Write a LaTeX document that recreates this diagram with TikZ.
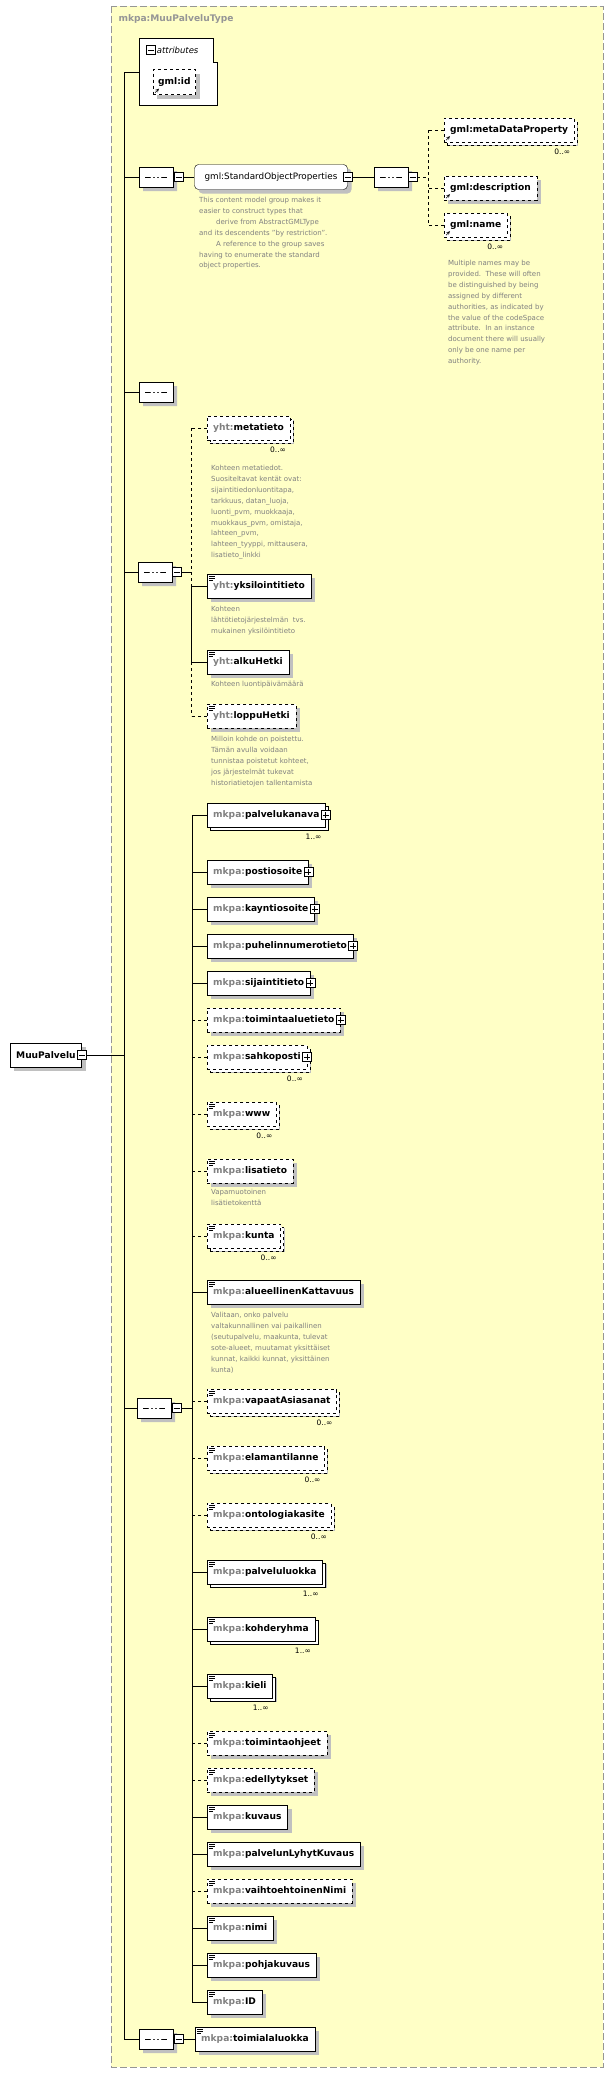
\documentclass[tikz,border=0pt]{standalone}
\usepackage{fontspec}
\setmainfont{DejaVu Sans}
\usetikzlibrary{shapes.misc,shadows,positioning}
\definecolor{typebg}{RGB}{255,255,198}
\definecolor{shade}{RGB}{192,192,192}
\definecolor{pfx}{RGB}{128,128,128}
\definecolor{frame}{RGB}{150,150,150}
\tikzset{
  shd/.style={drop shadow={shadow xshift=4pt,shadow yshift=-4pt,fill=shade,opacity=1}},
  elem/.style={draw,fill=white,anchor=west,minimum height=24,inner xsep=6,shd,
    font=\fontsize{9.1}{10}\selectfont\bfseries},
  req/.style={elem},
  reqmany/.style={elem,copy shadow={shadow xshift=3pt,shadow yshift=-3pt,fill=white,draw=black}},
  opt/.style={elem,dashed},
  optmany/.style={elem,dashed,copy shadow={shadow xshift=3pt,shadow yshift=-3pt,fill=white,draw=black,dashed}},
  xbox/.style={draw,solid,fill=white,minimum size=9,inner sep=0,
    path picture={\draw ([xshift=-3pt]path picture bounding box.center) -- ([xshift=3pt]path picture bounding box.center);}},
  pbox/.style={draw,solid,fill=white,minimum size=9,inner sep=0,
    path picture={\draw ([xshift=-3pt]path picture bounding box.center) -- ([xshift=3pt]path picture bounding box.center)
      ([yshift=-3pt]path picture bounding box.center) -- ([yshift=3pt]path picture bounding box.center);}},
  seq/.style={chamfered rectangle,chamfered rectangle xsep=5pt,chamfered rectangle ysep=5pt,
    draw,fill=white,minimum width=34,minimum height=20,inner sep=0,shd,
    path picture={\draw ([xshift=-11pt]path picture bounding box.center) -- ([xshift=11pt]path picture bounding box.center);
      \foreach \d in {-4,0,4} \fill ([xshift=\d pt]path picture bounding box.center) circle (1.6pt);}},
  mult/.style={anchor=north east,inner sep=0,font=\fontsize{7.5}{9}\selectfont},
  desc/.style={anchor=north west,inner sep=0,align=left,text=pfx,font=\fontsize{7}{10.9}\selectfont},
}
\newcommand\doclines[1]{\draw[solid,line width=.6pt] ([xshift=2pt,yshift=-2pt]#1.north west) -- ++(6,0)
  ([xshift=2pt,yshift=-4pt]#1.north west) -- ++(6,0) ([xshift=2pt,yshift=-6pt]#1.north west) -- ++(4,0);}
\newcommand\refmark[1]{\draw[solid,-stealth,line width=.6pt] ([xshift=2pt,yshift=2pt]#1.south west) -- ++(4,-4);}
\begin{document}
\begin{tikzpicture}[x=1pt,y=-1pt]
\useasboundingbox (0,0) rectangle (608,2073);
% complex type frame
\draw[frame,dashed,dash pattern=on 7pt off 3pt,fill=typebg] (111,6) rectangle (603,2067);
\node[anchor=west,text=frame,font=\fontsize{9.1}{10}\selectfont\bfseries] (title) at (115,19) {mkpa:MuuPalveluType};
\coordinate (trunktop) at (124,72);
\coordinate (trunkbot) at (124,2039);
\draw (trunktop) -- (trunkbot);

% root element
\node[req] (root) at (10,1055) {MuuPalvelu};
\node[xbox] (rootx) at (root.east) {};
\draw (rootx.east) -- (rootx.east -| trunktop);

% attributes
\draw[fill=white] (139,38) -- (213,38) -- (213,62) -- (217,62) -- (217,105) -- (139,105) -- cycle;
\node[xbox] (attrx) at (151,50) {};
\node[anchor=west,inner sep=1,font=\fontsize{8.5}{10}\selectfont\itshape] (attr) at (attrx.east) {attributes};
\draw (trunktop) -- (139,72);
\node[opt,minimum height=25,inner xsep=5] (gmlid) at (153,82) {gml:id};
\refmark{gmlid}

% sequence 1 and group
\node[seq] (s1) at (156,177) {};
\node[xbox] (s1x) at (178.5,177) {};
\draw (s1.west) -- (s1.west -| trunktop);
\node[draw,fill=white,rounded corners=4pt,minimum width=153,minimum height=25,shd,
  font=\fontsize{8.8}{10}\selectfont] (grp) at (271,177) {gml:StandardObjectProperties};
\node[xbox] (grpx) at (grp.east) {};
\draw (s1x.east) -- (grp.west);
\node[seq] (s1b) at (391,177) {};
\node[xbox] (s1bx) at (412.5,177) {};
\draw (grpx.east) -- (s1b.west);
\coordinate (b1) at (428,130);
\draw[dashed] (s1bx.east) -- (428,177) (b1) -- (428,225);
\node[optmany] (mdp) at (444,130) {gml:metaDataProperty};
\node[opt] (gdesc) at (444,188) {gml:description};
\node[optmany] (gname) at (444,225) {gml:name};
\foreach \n in {mdp,gdesc,gname} {\draw[dashed] (\n.west) -- (\n.west -| b1); \refmark{\n}}
\node[mult] at ([xshift=-4pt,yshift=-7pt]mdp.south east) {0..∞};
\node[mult] at ([xshift=-4pt,yshift=-7pt]gname.south east) {0..∞};
\node[desc] (grpd) at (199,197) {This content model group makes it\\easier to construct types that\\\hspace{17pt}derive from AbstractGMLType\\and its descendents "by restriction".\\\hspace{17pt}A reference to the group saves\\having to enumerate the standard\\object properties.};
\node[desc] (gnamed) at (448,260) {Multiple names may be\\provided.\ \ These will often\\be distinguished by being\\assigned by different\\authorities, as indicated by\\the value of the codeSpace\\attribute.\ \ In an instance\\document there will usually\\only be one name per\\authority.};

% sequence 2
\node[seq] (s2) at (156,392) {};
\draw (s2.west) -- (s2.west -| trunktop);

% sequence 3
\node[seq] (s3) at (155,572) {};
\node[xbox] (s3x) at (177,572) {};
\draw (s3.west) -- (s3.west -| trunktop);
\coordinate (b3) at (191,572);
\draw (s3x.east) -- (b3);
\draw[dashed] (191,428) -- (191,586) (191,662) -- (191,716);
\draw (191,586) -- (191,662);
\node[optmany] (meta) at (207,428) {{\color{pfx}yht:}metatieto};
\node[req] (yks) at (207,586) {{\color{pfx}yht:}yksilointitieto};
\node[req] (alku) at (207,662) {{\color{pfx}yht:}alkuHetki};
\node[opt] (loppu) at (207,716) {{\color{pfx}yht:}loppuHetki};
\draw[dashed] (meta.west) -- (meta.west -| b3) (loppu.west) -- (loppu.west -| b3);
\draw (yks.west) -- (yks.west -| b3) (alku.west) -- (alku.west -| b3);
\foreach \n in {yks,alku,loppu} {\doclines{\n}}
\node[mult] at ([xshift=-4pt,yshift=-7pt]meta.south east) {0..∞};
\node[desc] at (211,465) {Kohteen metatiedot.\\Suositeltavat kentät ovat:\\sijaintitiedonluontitapa,\\tarkkuus, datan\_luoja,\\luonti\_pvm, muokkaaja,\\muokkaus\_pvm, omistaja,\\lahteen\_pvm,\\lahteen\_tyyppi, mittausera,\\lisatieto\_linkki};
\node[desc] at (211,606) {Kohteen\\lähtötietojärjestelmän\ \ tvs.\\mukainen yksilöintitieto};
\node[desc] at (211,681) {Kohteen luontipäivämäärä};
\node[desc] at (211,736) {Milloin kohde on poistettu.\\Tämän avulla voidaan\\tunnistaa poistetut kohteet,\\jos järjestelmät tukevat\\historiatietojen tallentamista};

% sequence 4
\node[seq] (s4) at (154,1408) {};
\node[xbox] (s4x) at (176.5,1408) {};
\draw (s4.west) -- (s4.west -| trunktop);
\coordinate (b4) at (192,1408);
\draw (s4x.east) -- (b4);
\draw (192,815) -- (192,2002);
\def\nomult{-}
\foreach \y/\nm/\kind/\ln/\ext/\m in {
  815/palvelukanava/reqmany/solid/p/1..∞, 872/postiosoite/req/solid/p/-,
  909/kayntiosoite/req/solid/p/-, 946/puhelinnumerotieto/req/solid/p/-,
  983/sijaintitieto/req/solid/p/-, 1020/toimintaaluetieto/opt/dashed/p/-,
  1057/sahkoposti/optmany/dashed/p/0..∞, 1114/www/optmany/dashed/d/0..∞,
  1171/lisatieto/opt/dashed/d/-, 1236/kunta/optmany/dashed/d/0..∞,
  1292/alueellinenKattavuus/req/solid/d/-, 1401/vapaatAsiasanat/optmany/dashed/d/0..∞,
  1458/elamantilanne/optmany/dashed/d/0..∞, 1515/ontologiakasite/optmany/dashed/d/0..∞,
  1572/palveluluokka/reqmany/solid/d/1..∞, 1629/kohderyhma/reqmany/solid/d/1..∞,
  1686/kieli/reqmany/solid/d/1..∞, 1743/toimintaohjeet/opt/dashed/d/-,
  1780/edellytykset/opt/dashed/d/-, 1817/kuvaus/req/solid/d/-,
  1854/palvelunLyhytKuvaus/req/solid/d/-, 1891/vaihtoehtoinenNimi/opt/dashed/d/-,
  1928/nimi/req/solid/d/-, 1965/pohjakuvaus/req/solid/d/-, 2002/ID/req/solid/d/-} {
  \node[\kind] (\nm) at (207,\y) {{\color{pfx}mkpa:}\nm};
  \draw[\ln] (\nm.west) -- (\nm.west -| b4);
  \if p\ext \node[pbox] at (\nm.east) {}; \else \doclines{\nm} \fi
  \ifx\m\nomult\else \node[mult] at ([xshift=-4pt,yshift=-7pt]\nm.south east) {\m}; \fi
}
\node[desc] at (211,1189) {Vapamuotoinen\\lisätietokenttä};
\node[desc] at (211,1312) {Valitaan, onko palvelu\\valtakunnallinen vai paikallinen\\(seutupalvelu, maakunta, tulevat\\sote-alueet, muutamat yksittäiset\\kunnat, kaikki kunnat, yksittäinen\\kunta)};

% sequence 5
\node[seq] (s5) at (156,2039) {};
\node[xbox] (s5x) at (178.5,2039) {};
\node[req] (toim) at (195,2039) {{\color{pfx}mkpa:}toimialaluokka};
\doclines{toim}
\draw (trunkbot) -- (s5.west) (s5x.east) -- (toim.west);
\end{tikzpicture}
\end{document}
